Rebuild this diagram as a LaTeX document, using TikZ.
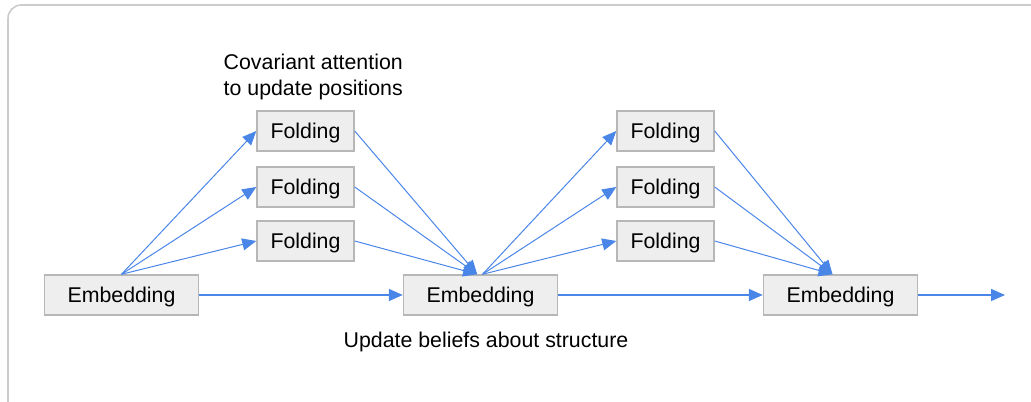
\documentclass[tikz,border=0pt]{standalone}
\usepackage{fontspec}
\setmainfont{Liberation Sans}
\usetikzlibrary{arrows.meta}

\definecolor{flowblue}{HTML}{4A86E8}
\definecolor{boxfill}{HTML}{EEEEEE}
\definecolor{boxline}{HTML}{B7B7B7}
\definecolor{framegray}{HTML}{CCCCCC}

\tikzset{
  block/.style={draw=boxline, fill=boxfill, line width=1.1pt, minimum height=30pt,
    inner sep=0pt, text depth=1pt, font=\fontsize{16}{20}\selectfont},
  fold/.style={block, minimum width=72.75pt},
  embed/.style={block, minimum width=115.5pt},
  flow/.style={flowblue, line width=0.75pt, -{Triangle[length=10.5pt, width=9pt]}},
  pass/.style={flow, line width=1.2pt}
}

\begin{document}
\begin{tikzpicture}[x=0.75pt, y=-0.75pt]

\useasboundingbox (0,0) rectangle (1031,402);
\draw[framegray, line width=1.2pt, rounded corners=10pt] (8,402) -- (8,5) -- (1031,5);

% embeddings along the bottom
\node[embed] (E1) at (121.5,295) {Embedding};
\node[embed] (E2) at (480.5,295) {Embedding};
\node[embed] (E3) at (840.5,295) {Embedding};
\coordinate (out) at (1005,295);

% first round of folding
\node[fold] (A1) at (305.5,131) {Folding};
\node[fold] (A2) at (305.5,187) {Folding};
\node[fold] (A3) at (305.5,241) {Folding};

% second round of folding
\node[fold] (B1) at (665.5,131) {Folding};
\node[fold] (B2) at (665.5,187) {Folding};
\node[fold] (B3) at (665.5,241) {Folding};

\node[font=\fontsize{16}{20}\selectfont, align=left, anchor=base west] (cov) at (219,96)
  {Covariant attention\\to update positions};
\node[font=\fontsize{16}{20}\selectfont, anchor=base] (upd) at (486,348)
  {Update beliefs about structure};

\foreach \f in {A1,A2,A3} {
  \draw[flow] (E1.north) -- (\f.west);
  \draw[flow] (\f.east) -- ([xshift=-2.5]E2.north);
}
\foreach \f in {B1,B2,B3} {
  \draw[flow] ([xshift=1.5]E2.north) -- (\f.west);
  \draw[flow] (\f.east) -- ([xshift=-6]E3.north);
}

\draw[pass] (E1) -- (E2);
\draw[pass] (E2) -- (E3);
\draw[pass] (E3) -- (out);

\end{tikzpicture}
\end{document}
